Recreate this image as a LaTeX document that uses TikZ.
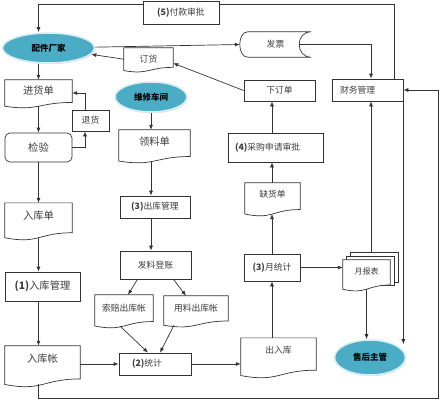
\documentclass[tikz,border=0pt]{standalone}
\usepackage{fontspec}
\setmainfont{Noto Sans CJK SC}
\usetikzlibrary{positioning}
\usetikzlibrary{calc}
\usetikzlibrary{arrows.meta}
\usetikzlibrary{shapes.geometric}
\usetikzlibrary{shadows}
\usetikzlibrary{backgrounds}
\RequirePackage{xcolor}
\definecolor{FLOWteal}{HTML}{4BACC6}
\definecolor{FLOWglow}{HTML}{D8EEF4}
\definecolor{FLOWline}{HTML}{333333}
\definecolor{FLOWtext}{HTML}{3C3C3C}

\tikzset{
  fnorm/.style={font=\fontsize{8.8}{10}\selectfont},
  fbig/.style={font=\fontsize{10.3}{12}\selectfont},
  box/.style={rectangle, draw=FLOWline, line width=0.7pt, inner sep=0pt, text=FLOWtext, fnorm},
  doc/.style={rectangle, inner sep=0pt, text=FLOWtext, fnorm, text depth=8pt},
  ell/.style={ellipse, fill=FLOWteal, draw=FLOWglow, line width=1.6pt, inner sep=0pt,
    drop shadow={opacity=0.25, shadow xshift=0.8pt, shadow yshift=-1.2pt},
    font=\bfseries\fontsize{8.5}{10}\selectfont},
  conn/.style={draw=FLOWline, line width=0.7pt},
  arr/.style={conn, -{Latex[length=5pt,width=4pt]}},
}

\newcommand{\docshape}[2][]{%
  \draw[conn,#1] (#2.north west) -- (#2.north east)
    -- ($(#2.north east)!0.857!(#2.south east)$)
    .. controls ($(#2.north)!0.857!(#2.south)$) and ($(#2.north)!1.19!(#2.south)$) .. (#2.south west)
    -- cycle;}

\begin{document}
\begin{tikzpicture}[x=1pt,y=-1pt]
\useasboundingbox (0,0) rectangle (440,400);

% Suppliers and finance
\node[box, minimum width=76pt, minimum height=23pt] (fk) at (181,12.5) {\textbf{(5)}付款审批};
\node[ell, minimum width=92pt, minimum height=30pt] (pj) at (48.5,48) {配件厂家};
\node[doc, minimum width=49pt, minimum height=22.4pt, text depth=1pt] (dh) at (148.5,59.2) {订货};
\node[rectangle, inner sep=0pt, text=FLOWtext, fnorm, minimum width=71pt, minimum height=25pt] (fp) at (275.5,44.5) {发票\hspace{18pt}};
\node[box, minimum width=71pt, minimum height=21pt] (xd) at (279.5,90.5) {下订单};
\node[box, minimum height=22pt, text width=55pt, inner xsep=8pt, align=left] (cw) at (367.5,90) {财务管理};

% Stock in
\node[doc, fbig, minimum width=67pt, minimum height=26.1pt, text depth=6pt] (jh) at (38.5,93) {进货单};
\node[box, minimum width=37pt, minimum height=21pt] (th) at (90.5,120.5) {退货};
\node[box, fbig, rounded corners=5pt, minimum width=67pt, minimum height=29pt] (jy) at (38.5,147.5) {检验};
\node[doc, fbig, minimum width=67pt, minimum height=34.5pt, text depth=10pt] (rk) at (38.5,220.3) {入库单};
\node[box, fbig, minimum width=75pt, minimum height=29pt] (rg) at (42.5,286.5) {\textbf{(1)}入库管理};
\node[doc, fbig, minimum width=75pt, minimum height=38.3pt, text depth=14pt] (rz) at (42.5,365.1) {入库帐};

% Stock out
\node[ell, minimum width=72pt, minimum height=30pt] (wx) at (151,97) {维修车间};
\node[doc, fbig, minimum width=71pt, minimum height=30.8pt, text depth=9pt] (ll) at (154.5,145.4) {领料单};
\node[box, minimum width=70pt, minimum height=22pt] (ck) at (155,207) {\textbf{(3)}出库管理};
\node[box, minimum width=71pt, minimum height=28pt] (fl) at (155.5,265) {发料登账};
\node[doc, minimum width=58pt, minimum height=30.8pt, text depth=5pt] (sp) at (124,310.4) {索赔出库帐};
\node[doc, minimum width=64pt, minimum height=29pt, text depth=5pt] (yl) at (196,310.5) {用料出库帐};
\node[box, minimum height=22pt, text width=46pt, inner xsep=13pt, align=left] (tj) at (155,364) {\textbf{(2)}统计};

% Purchase and report
\node[box, minimum height=29pt, text width=81pt, inner xsep=7pt, align=left] (cg) at (275.5,147.5) {\textbf{(4)}采购申请审批};
\node[doc, minimum width=55pt, minimum height=30.8pt, text depth=9pt] (qh) at (272.5,198.4) {缺货单};
\node[box, minimum width=56pt, minimum height=27pt] (yt) at (272,267.5) {\textbf{(3)}月统计};
\node[doc, minimum width=75pt, minimum height=37.3pt, text depth=13pt] (cr) at (278.5,356.7) {出入库};
\node[doc, font=\fontsize{8}{10}\selectfont, minimum width=47pt, minimum height=29pt, text depth=7pt] (yb) at (366.5,274.5) {月报表};
\node[ell, minimum width=71pt, minimum height=35pt] (sh) at (370,357.5) {售后主管};

% Document outlines
\docshape{dh}
\docshape{jh}
\docshape{rk}
\docshape{rz}
\docshape{ll}
\docshape{sp}
\docshape{yl}
\docshape{qh}
\docshape{cr}
\begin{scope}[on background layer]
\draw[conn, fill=white] ([shift={(8pt,7pt)}]yb.north west) rectangle ([shift={(8pt,7pt)}]yb.south east);
\draw[conn, fill=white] ([shift={(4pt,3.5pt)}]yb.north west) rectangle ([shift={(4pt,3.5pt)}]yb.south east);
\docshape[fill=white]{yb}
\end{scope}
\draw[conn] ([xshift=8pt]fp.north west) -- (fp.north east)
  .. controls ([xshift=-16pt]fp.north east) and ([xshift=-16pt]fp.south east) .. (fp.south east)
  -- ([xshift=8pt]fp.south west)
  .. controls ([xshift=-2.7pt]fp.south west) and ([xshift=-2.7pt]fp.north west) .. ([xshift=8pt]fp.north west) -- cycle;

% Connectors
\coordinate (loopcorner) at (438,398);
\draw[conn] ([xshift=26.5pt]cw.north) |- ([yshift=8.5pt]fk.east);
\draw[arr] ([yshift=8.5pt]fk.west) -| (jh.north |- pj.north);
\draw[arr] (pj) -- (fp.west);
\draw[arr] ([xshift=-12pt]fp.east) -| ([xshift=3.5pt]cw.north);
\draw[arr] (xd.west) -- ([yshift=-4pt]dh.east);
\draw[arr] (dh.west) -- (pj);

\draw[arr] (pj.south -| jh) -- (jh.north);
\draw[arr] ([xshift=-5.5pt]th.north) |- (jh.east);
\draw[arr] (jh) -- (jy);
\draw[arr] (jy.east) -| ([xshift=-5.5pt]th.south);
\draw[arr] (jy) -- (rk);
\draw[arr] (rk.south) -- (rk.south |- rg.north);
\draw[arr] (rg.south -| rk) -- (rk |- rz.north);
\draw[arr] (rz.east |- tj) -- (tj.west);
\draw[arr] (rz.south -| rk) |- (loopcorner) |- (cw.east);

\draw[arr] (wx.south) -- (wx.south |- ll.north);
\draw[arr] (ll.south -| wx) -- (wx |- ck.north);
\draw[arr] (ck.south -| wx) -- (wx |- fl.north);
\draw[arr] ([xshift=-18pt]fl.south) -- ([xshift=4pt]sp.north);
\draw[arr] ([xshift=18pt]fl.south) -- ([xshift=-10pt]yl.north);
\draw[arr] ([xshift=-4pt]sp.south) -- ([xshift=-7pt]tj.north);
\draw[arr] ([xshift=-22pt]yl.south) -- ([xshift=5pt]tj.north);
\draw[arr] (tj.east) -- (tj.east -| cr.west);

\draw[arr] (yt.south |- cr.north) -- (yt.south);
\draw[arr] (yt.north) -- (yt.north |- qh.south);
\draw[arr] (qh.north -| yt) -- (yt |- cg.south);
\draw[arr] (cg.north -| yt) -- (yt |- xd.south);
\draw[arr] (yt.east) -- (yt.east -| yb.west);
\draw[arr] ([shift={(4.5pt,7pt)}]yb.north) -- ([xshift=3.5pt]cw.south);
\draw[arr] (yb.south) -- (yb.south |- sh.north);
\draw[arr] (cw.south east) -- ($(cw.south east |- sh.north)+(0,5)$);

\end{tikzpicture}
\end{document}
